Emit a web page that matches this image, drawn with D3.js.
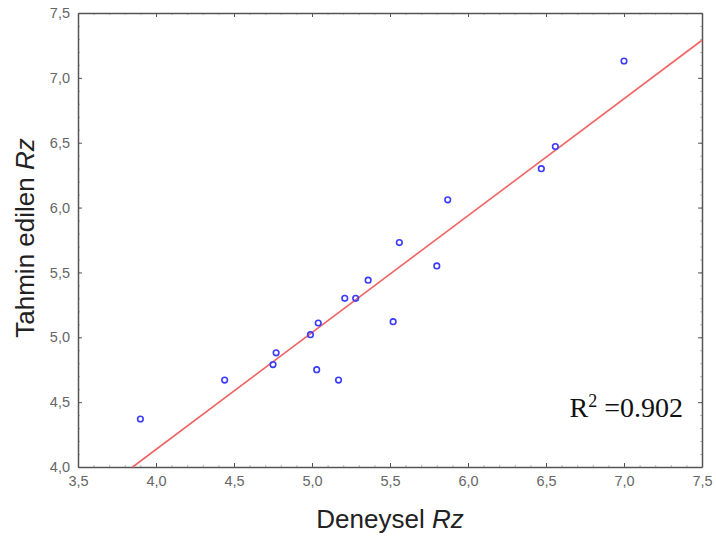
<!DOCTYPE html>
<html>
<head>
<meta charset="utf-8">
<script src="https://cdn.jsdelivr.net/npm/d3@7"></script>
<style>
  body { margin: 0; background: #fff; }
  svg { display: block; }
  .tick text { font-family: Arial, "Liberation Sans", sans-serif; font-size: 14.5px; fill: #666; }
  .axis-title { font-family: Arial, "Liberation Sans", sans-serif; font-size: 26px; fill: #222; }
</style>
</head>
<body>
<div id="chart"></div>
<script>
const deneysel = [3.90, 4.44, 4.75, 4.77, 4.99, 5.04, 5.03, 5.17, 5.21, 5.28, 5.36, 5.52, 5.56, 5.80, 5.87, 6.47, 6.56, 7.00];
const tahmin   = [4.37, 4.67, 4.79, 4.88, 5.02, 5.11, 4.75, 4.67, 5.30, 5.30, 5.44, 5.12, 5.73, 5.55, 6.06, 6.30, 6.47, 7.13];
// fitted line as drawn (start / end)
const fitX = [3.85, 7.5];
const fitY = [4.0, 7.29];
const xTicks = [3.5, 4.0, 4.5, 5.0, 5.5, 6.0, 6.5, 7.0, 7.5];
const yTicks = [4.0, 4.5, 5.0, 5.5, 6.0, 6.5, 7.0, 7.5];
const r2Label = "0.902";

const width = 716, height = 537;
const margin = { top: 13, right: 14, bottom: 70, left: 78 };

const svg = d3.select("#chart")
              .append("svg")
              .attr("width", width)
              .attr("height", height);

const x = d3.scaleLinear().domain([3.5, 7.5]).range([margin.left, width - margin.right]);
const y = d3.scaleLinear().domain([4.0, 7.5]).range([height - margin.bottom, margin.top]);

const fmt = d => d3.format(".1f")(d).replace(".", ",");
const minorX = d3.range(35, 76).map(d => d / 10);
const minorY = d3.range(40, 76).map(d => d / 10);

// minor ticks (faint), all four sides
const minorStyle = g => g.call(s => s.select(".domain").remove())
                         .call(s => s.selectAll("line").attr("stroke", "#bbb"))
                         .call(s => s.selectAll("text").remove());
svg.append("g").attr("transform", `translate(0,${y(4.0)})`)
   .call(d3.axisBottom(x).tickValues(minorX).tickSize(-2)).call(minorStyle);
svg.append("g").attr("transform", `translate(0,${y(7.5)})`)
   .call(d3.axisTop(x).tickValues(minorX).tickSize(-2)).call(minorStyle);
svg.append("g").attr("transform", `translate(${x(3.5)},0)`)
   .call(d3.axisLeft(y).tickValues(minorY).tickSize(-2)).call(minorStyle);
svg.append("g").attr("transform", `translate(${x(7.5)},0)`)
   .call(d3.axisRight(y).tickValues(minorY).tickSize(-2)).call(minorStyle);

// major axes
const majorStyle = g => g.call(s => s.select(".domain").attr("stroke", "#555").attr("stroke-width", 1.5))
                         .call(s => s.selectAll("line").attr("stroke", "#555"));

svg.append("g").attr("transform", `translate(0,${y(4.0)})`)
   .call(d3.axisBottom(x).tickValues(xTicks).tickFormat(fmt).tickSizeInner(-4).tickSizeOuter(0).tickPadding(9))
   .call(majorStyle);
svg.append("g").attr("transform", `translate(0,${y(7.5)})`)
   .call(d3.axisTop(x).tickValues(xTicks).tickFormat("").tickSizeInner(-4).tickSizeOuter(0))
   .call(majorStyle);
svg.append("g").attr("transform", `translate(${x(3.5)},0)`)
   .call(d3.axisLeft(y).tickValues(yTicks).tickFormat(fmt).tickSizeInner(-4).tickSizeOuter(0).tickPadding(8))
   .call(majorStyle);
svg.append("g").attr("transform", `translate(${x(7.5)},0)`)
   .call(d3.axisRight(y).tickValues(yTicks).tickFormat("").tickSizeInner(-4).tickSizeOuter(0))
   .call(majorStyle);

// regression line
svg.append("line")
   .attr("x1", x(fitX[0])).attr("y1", y(fitY[0]))
   .attr("x2", x(fitX[1])).attr("y2", y(fitY[1]))
   .attr("stroke", "#f26464")
   .attr("stroke-width", 1.6);

// points
svg.append("g")
   .selectAll("circle")
   .data(deneysel.map((d, i) => [d, tahmin[i]]))
   .join("circle")
   .attr("cx", d => x(d[0]))
   .attr("cy", d => y(d[1]))
   .attr("r", 2.8)
   .attr("fill", "none")
   .attr("stroke", "#3b3bff")
   .attr("stroke-width", 1.6);

// axis titles
const xt = svg.append("text").attr("class", "axis-title")
   .attr("x", 390).attr("y", 528).attr("text-anchor", "middle");
xt.append("tspan").text("Deneysel ");
xt.append("tspan").attr("font-style", "italic").text("Rz");

const yt = svg.append("text").attr("class", "axis-title")
   .attr("transform", "translate(34,238) rotate(-90)").attr("text-anchor", "middle")
   .attr("font-size", 27);
yt.append("tspan").text("Tahmin edilen ");
yt.append("tspan").attr("font-style", "italic").text("Rz");

// R squared note
const r2 = svg.append("text")
   .attr("x", 683).attr("y", 417).attr("text-anchor", "end")
   .attr("font-family", "'Liberation Serif', 'Times New Roman', serif")
   .attr("font-size", 28).attr("fill", "#111");
r2.append("tspan").text("R");
r2.append("tspan").attr("font-size", 18).attr("dy", -10).text("2");
r2.append("tspan").attr("dy", 10).text(" =" + r2Label);
</script>
</body>
</html>
